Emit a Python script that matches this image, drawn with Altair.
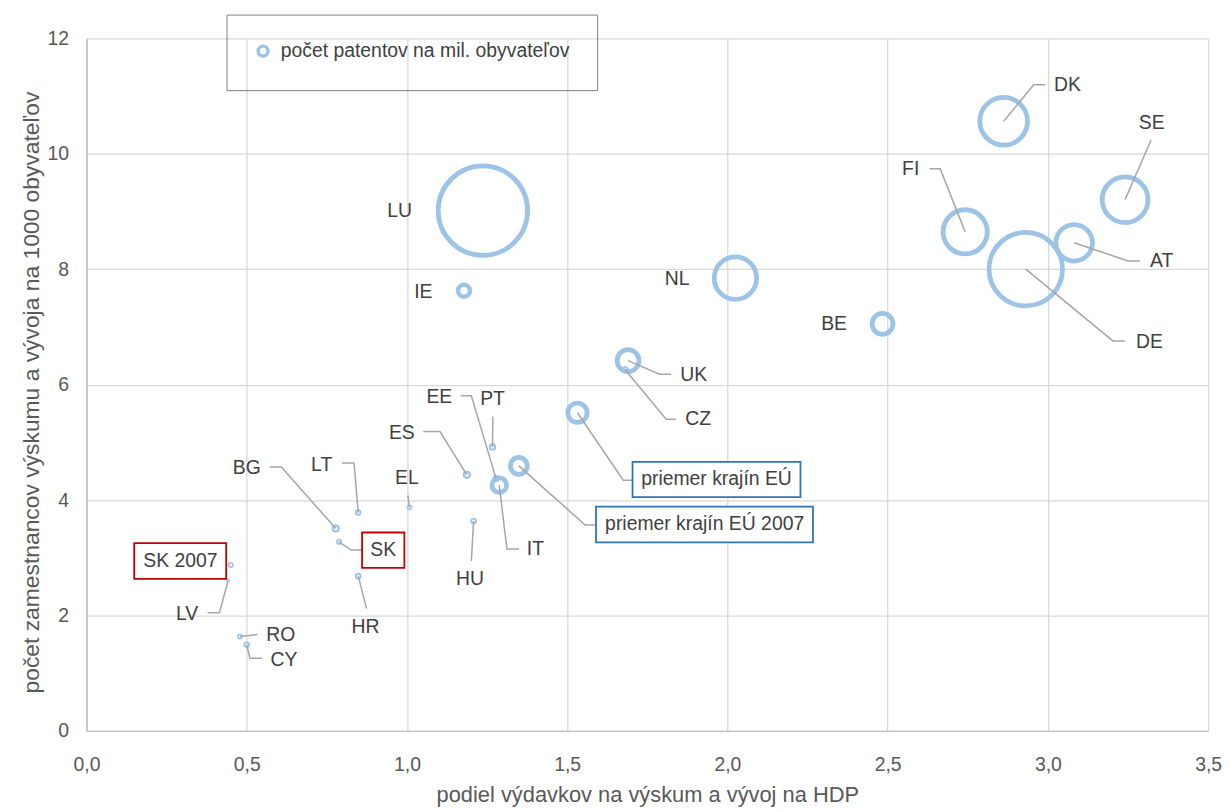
import altair as alt
import pandas as pd

FONT = "Liberation Sans, Arial, sans-serif"
XT = "podiel výdavkov na výskum a vývoj na HDP"
YT = "počet zamestnancov výskumu a vývoja na 1000 obyvateľov"
SERIE = "počet patentov na mil. obyvateľov"

# --- data ---
codes = ["LU", "DE", "DK", "SE", "FI", "NL", "AT", "BE", "IE", "CZ", "UK", "EU", "EU07",
         "EE", "IT", "PT", "ES", "EL", "HU", "LT", "BG", "SK", "HR", "SK07", "LV", "RO", "CY"]
names = ["LU", "DE", "DK", "SE", "FI", "NL", "AT", "BE", "IE", "CZ", "UK", "priemer krajín EÚ",
         "priemer krajín EÚ 2007", "EE", "IT", "PT", "ES", "EL", "HU", "LT", "BG", "SK", "HR",
         "SK 2007", "LV", "RO", "CY"]
rd_share = [1.237, 2.931, 2.862, 3.241, 2.742, 2.025, 3.082, 2.484, 1.178, 1.681, 1.690, 1.532,
            1.349, 1.278, 1.288, 1.267, 1.187, 1.008, 1.208, 0.848, 0.778, 0.788, 0.848, 0.450,
            0.442, 0.479, 0.500]
researchers = [9.016, 8.001, 10.566, 9.206, 8.648, 7.846, 8.459, 7.054, 7.627, 6.258, 6.417, 5.513,
               4.592, 4.373, 4.258, 4.919, 4.437, 3.874, 3.638, 3.783, 3.507, 3.276, 2.681, 2.875,
               2.605, 1.636, 1.493]
patents = [450, 304, 128, 118, 110, 101, 75, 24.5, 8, 1.5, 27, 21, 16, 1.5, 12, 1.7, 2, 1.0, 1.3,
           1.3, 2, 1.1, 1.3, 1.1, 0.45, 1.0, 1.3]

# --- annotation layout (label anchors, leader elbows and ends, in data units) ---
label_x = [0.977, 3.317, 3.061, 3.324, 2.572, 1.843, 3.355, 2.333, 1.051, 1.909, 1.895, 1.966,
           1.929, 1.101, 1.401, 1.267, 0.984, 1.000, 1.197, 0.734, 0.500, 0.926, 0.871, 0.293,
           0.314, 0.606, 0.616]
label_y = [9.004, 6.740, 11.191, 10.528, 9.736, 7.828, 8.135, 7.054, 7.610, 5.401, 6.164, 4.356,
           3.576, 5.790, 3.151, 5.750, 5.160, 4.385, 2.634, 4.614, 4.557, 3.130, 1.803, 2.944,
           2.032, 1.658, 1.228]
elbow_x = [None, 3.203, 2.956, 3.322, 2.664, None, 3.250, None, None, 1.809, 1.788, 1.675, 1.556,
           1.201, 1.312, 1.268, 1.103, 1.003, 1.201, 0.835, 0.608, 0.826, 0.874, None, 0.415,
           0.533, 0.510]
elbow_y = [None, 6.758, 11.196, 10.239, 9.740, None, 8.144, None, None, 5.401, 6.181, 4.344, 3.569,
           5.807, 3.151, 5.446, 5.187, 4.080, 2.944, 4.643, 4.574, 3.133, 2.118, None, 2.049,
           1.670, 1.257]
end_x = [None, 3.240, 2.992, None, 2.631, None, 3.287, None, None, 1.840, 1.824, 1.704, 1.590,
         1.168, 1.350, None, 1.051, None, None, 0.797, 0.572, 0.860, None, None, 0.378, None, 0.548]
end_y = [None, 6.758, 11.196, None, 9.740, None, 8.144, None, None, 5.401, 6.181, 4.344, 3.569,
         5.807, 3.151, None, 5.187, None, None, 4.643, 4.574, 3.133, None, None, 2.049, None, 1.257]

box_code = ["EU", "EU07", "SK", "SK07"]
box_group = ["EU", "EU", "SK", "SK"]
box_x1 = [1.704, 1.590, 0.860, 0.149]
box_x2 = [2.228, 2.267, 0.992, 0.436]
box_y1 = [4.661, 3.886, 3.438, 3.254]
box_y2 = [4.051, 3.266, 2.824, 2.634]

x_ticks = [0, 0.5, 1.0, 1.5, 2.0, 2.5, 3.0, 3.5]
y_ticks = [0, 2, 4, 6, 8, 10, 12]

# --- tables ---
pts = pd.DataFrame({"code": codes, "rd": rd_share, "res": researchers, "pat": patents,
                    "serie": [SERIE] * len(codes)})
labels = pd.DataFrame({"name": names, "tx": label_x, "ty": label_y})
rows = []
for i, c in enumerate(codes):
    if elbow_x[i] is None:
        continue
    seq = [(rd_share[i], researchers[i]), (elbow_x[i], elbow_y[i])]
    if end_x[i] is not None:
        seq.append((end_x[i], end_y[i]))
    for k, (a, b) in enumerate(seq):
        rows.append({"lab": c, "seq": k, "lx": a, "ly": b})
leaders = pd.DataFrame(rows)
boxes = pd.DataFrame({"code": box_code, "grp": box_group, "bx1": box_x1, "bx2": box_x2,
                      "by1": box_y1, "by2": box_y2})

sx = alt.Scale(domain=[0, 3.5], nice=False, zero=False)
sy = alt.Scale(domain=[0, 12], nice=False)
ax_x = alt.Axis(values=x_ticks, labelExpr="replace(format(datum.value, '.1f'), '.', ',')",
                ticks=False, labelPadding=25, labelFlush=False, titleY=64,
                titleBaseline="middle", grid=True)
ax_y = alt.Axis(values=y_ticks, format="d", ticks=False, labelPadding=18, labelFlush=False,
                titleX=-55, titleY=356, titleAlign="center", titleBaseline="middle",
                titleFontSize=23, grid=True)


def X(f):
    return alt.X(f"{f}:Q", scale=sx, axis=ax_x, title=XT)


def Y(f):
    return alt.Y(f"{f}:Q", scale=sy, axis=ax_y, title=YT)


points = alt.Chart(pts).mark_point(filled=False, opacity=1, shape="circle").encode(
    x=X("rd"), y=Y("res"),
    size=alt.Size("pat:Q", scale=alt.Scale(domain=[0, 450], range=[0, 8100]), legend=None),
    strokeWidth=alt.StrokeWidth("pat:Q", scale=alt.Scale(type="sqrt", domain=[0, 9],
                                                         range=[0, 4.8], clamp=True), legend=None),
    color=alt.Color("serie:N", scale=alt.Scale(range=["#9DC3E6"]),
                    legend=alt.Legend(title=None, orient="none", legendX=141, legendY=-24,
                                      padding=27, strokeColor="#7F7F7F", symbolType="circle",
                                      symbolSize=100, symbolStrokeWidth=3.4, labelOffset=8,
                                      labelLimit=500, labelFont=FONT, labelFontSize=19.5,
                                      labelColor="#404040")),
)

lines = alt.Chart(leaders).mark_line(color="#A6A6A6", strokeWidth=1.5).encode(
    x=X("lx"), y=Y("ly"), detail="lab:N", order="seq:O")

rects = alt.Chart(boxes).mark_rect(fill="white", strokeWidth=1.8).encode(
    x=X("bx1"), x2="bx2", y=Y("by1"), y2="by2",
    stroke=alt.Stroke("grp:N", scale=alt.Scale(domain=["EU", "SK"], range=["#2E75B6", "#C00000"]),
                      legend=None))

texts = alt.Chart(labels).mark_text(font=FONT, fontSize=19.5, color="#404040", align="center",
                                    baseline="middle").encode(
    x=X("tx"), y=Y("ty"), text="name:N")

chart = alt.layer(points, lines, rects, texts).properties(
    width=1129, height=697,
    autosize=alt.AutoSizeParams(type="none"),
    padding={"left": 79, "top": 28, "right": 14, "bottom": 76},
    background="white",
).configure_view(stroke="transparent").configure_axis(
    labelFont=FONT, labelFontSize=19.5, labelColor="#595959",
    titleFont=FONT, titleFontSize=22, titleColor="#595959", titleFontWeight="normal",
    gridColor="#D9D9D9", gridWidth=1.3, domainColor="#BFBFBF", domainWidth=1.5,
)

chart.save("out.html", embed_options={"renderer": "svg", "actions": False})
